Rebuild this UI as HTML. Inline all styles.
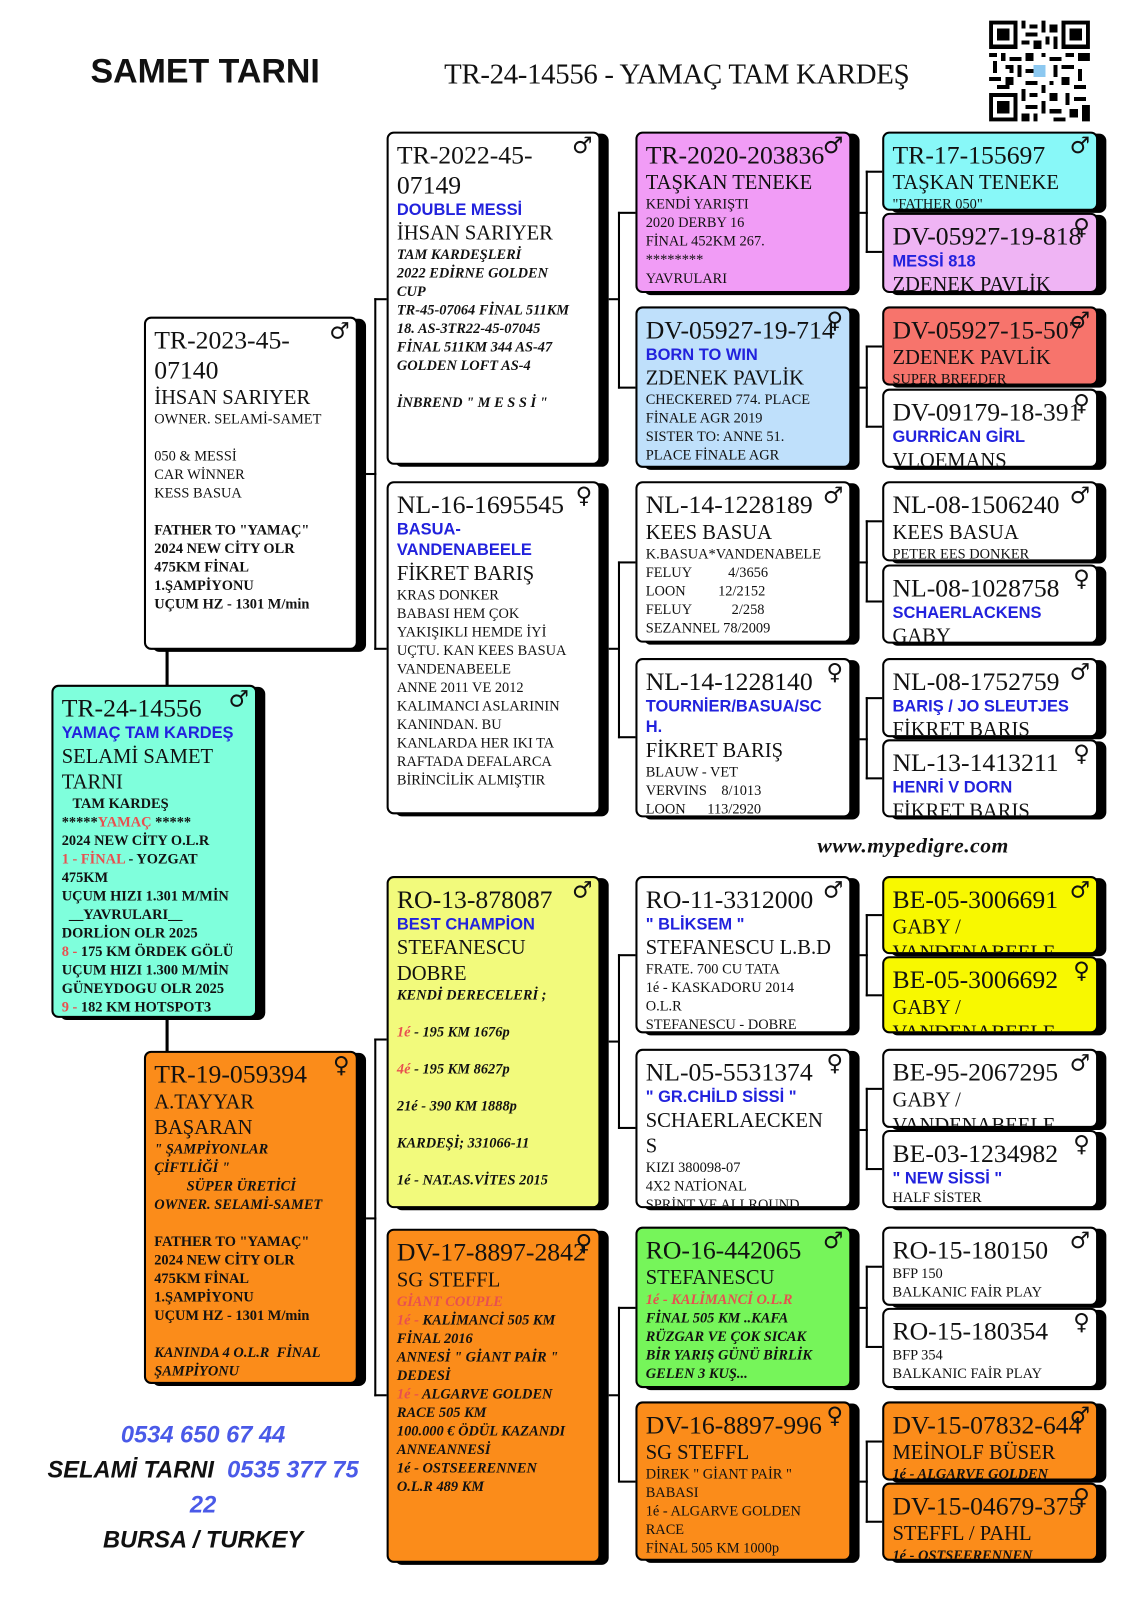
<!DOCTYPE html>
<html><head><meta charset="utf-8"><style>
html,body{margin:0;padding:0;background:#fff;width:1131px;height:1600px;overflow:hidden}
#w{position:absolute;left:0;top:0;width:1100px;height:1556px;transform:scale(1.0282);transform-origin:0 0;font-family:"Liberation Serif",serif;color:#111}
.b{position:absolute;border:2px solid #000;border-radius:7px;box-shadow:8px 2px 0 #000;overflow:hidden;box-sizing:border-box;padding:7px 8px 4px}
.id{font-size:25px;line-height:29px;white-space:nowrap}
.nm{font-size:20px;line-height:25px}
.bl{font-family:"Liberation Sans",sans-serif;font-weight:bold;color:#2222dd;font-size:16px;line-height:20px}
.d{font-size:14px;line-height:18px}
.bi{font-size:14px;line-height:18px;font-weight:bold;font-style:italic}
.bo{font-size:14px;line-height:18px;font-weight:bold}
.r{color:#e85050}
.s{position:absolute;right:6px;top:0px;font-size:22px;font-family:"DejaVu Sans",sans-serif}
.l{position:absolute;background:#000}
</style></head><body><div id="w">
<div style="position:absolute;left:88px;top:50px;font:bold 33px 'Liberation Sans',sans-serif">SAMET TARNI</div>
<div style="position:absolute;left:432px;top:57px;font-size:28px;letter-spacing:-0.3px">TR-24-14556 - YAMAÇ TAM KARDEŞ</div>
<svg style="position:absolute;left:962px;top:20px" width="98" height="98" viewBox="0 0 25 25" shape-rendering="crispEdges"><rect width="25" height="25" fill="#fff"/>
<g fill="#000">
<path d="M0 0h7v7h-7zM18 0h7v7h-7zM0 18h7v7h-7z"/>
</g>
<g fill="#fff"><path d="M1 1h5v5h-5zM19 1h5v5h-5zM1 19h5v5h-5z"/></g>
<g fill="#000"><path d="M2 2h3v3h-3zM20 2h3v3h-3zM2 20h3v3h-3z"/>
<path d="M8 0h1v2h-1zM10 1h2v1h-2zM13 0h1v3h-1zM15 1h2v2h-2zM9 3h3v1h-3zM14 4h1v2h-1zM8 5h2v1h-2zM11 5h2v2h-2zM16 4h1v3h-1zM0 8h2v1h-2zM3 8h1v2h-1zM5 9h3v1h-3zM9 8h2v2h-2zM13 8h1v1h-1zM15 9h3v1h-3zM19 8h2v1h-2zM22 8h3v2h-3zM1 10h1v3h-1zM4 11h2v1h-2zM7 11h1v3h-1zM9 12h2v1h-2zM16 11h1v3h-1zM18 11h3v1h-3zM22 12h1v3h-1zM0 14h3v1h-3zM4 14h2v2h-2zM9 15h3v1h-3zM13 16h1v2h-1zM15 15h1v1h-1zM18 14h2v2h-2zM21 16h3v1h-3zM8 17h1v3h-1zM10 18h2v1h-2zM15 18h2v2h-2zM19 18h1v3h-1zM21 19h3v1h-3zM9 21h3v1h-3zM13 20h1v3h-1zM15 22h3v1h-3zM20 22h2v2h-2zM23 21h2v4h-2zM8 23h2v2h-2zM11 23h1v2h-1zM16 24h3v1h-3zM2 16h3v1h-3zM5 12h1v1h-1z"/></g>
<rect x="11" y="11" width="3" height="3" fill="#8cc8f0"/></svg>

<!-- connectors -->
<div class="l" style="left:161px;top:632px;width:3px;height:36px"></div>
<div class="l" style="left:161px;top:990px;width:3px;height:34px"></div>
<div class="l" style="left:356px;top:460px;width:10px;height:2px"></div>
<div class="l" style="left:364px;top:290px;width:2px;height:342px"></div>
<div class="l" style="left:364px;top:290px;width:12px;height:2px"></div>
<div class="l" style="left:364px;top:630px;width:12px;height:2px"></div>
<div class="l" style="left:356px;top:1184px;width:10px;height:2px"></div>
<div class="l" style="left:364px;top:1010px;width:2px;height:348px"></div>
<div class="l" style="left:364px;top:1010px;width:12px;height:2px"></div>
<div class="l" style="left:364px;top:1356px;width:12px;height:2px"></div>
<!-- gen2->gen3 -->
<div class="l" style="left:592px;top:290px;width:10px;height:2px"></div>
<div class="l" style="left:601px;top:206px;width:2px;height:172px"></div>
<div class="l" style="left:601px;top:206px;width:17px;height:2px"></div>
<div class="l" style="left:601px;top:376px;width:17px;height:2px"></div>
<div class="l" style="left:592px;top:630px;width:10px;height:2px"></div>
<div class="l" style="left:601px;top:546px;width:2px;height:172px"></div>
<div class="l" style="left:601px;top:546px;width:17px;height:2px"></div>
<div class="l" style="left:601px;top:716px;width:17px;height:2px"></div>
<div class="l" style="left:592px;top:1012px;width:10px;height:2px"></div>
<div class="l" style="left:601px;top:928px;width:2px;height:170px"></div>
<div class="l" style="left:601px;top:928px;width:17px;height:2px"></div>
<div class="l" style="left:601px;top:1096px;width:17px;height:2px"></div>
<div class="l" style="left:592px;top:1356px;width:10px;height:2px"></div>
<div class="l" style="left:601px;top:1271px;width:2px;height:170px"></div>
<div class="l" style="left:601px;top:1271px;width:17px;height:2px"></div>
<div class="l" style="left:601px;top:1440px;width:17px;height:2px"></div>
<!-- gen3->gen4 -->
<div class="l" style="left:836px;top:206px;width:8px;height:2px"></div><div class="l" style="left:842px;top:166px;width:2px;height:80px"></div><div class="l" style="left:842px;top:166px;width:16px;height:2px"></div><div class="l" style="left:842px;top:244px;width:16px;height:2px"></div>
<div class="l" style="left:836px;top:376px;width:8px;height:2px"></div><div class="l" style="left:842px;top:336px;width:2px;height:80px"></div><div class="l" style="left:842px;top:336px;width:16px;height:2px"></div><div class="l" style="left:842px;top:414px;width:16px;height:2px"></div>
<div class="l" style="left:836px;top:546px;width:8px;height:2px"></div><div class="l" style="left:842px;top:506px;width:2px;height:80px"></div><div class="l" style="left:842px;top:506px;width:16px;height:2px"></div><div class="l" style="left:842px;top:584px;width:16px;height:2px"></div>
<div class="l" style="left:836px;top:718px;width:8px;height:2px"></div><div class="l" style="left:842px;top:678px;width:2px;height:80px"></div><div class="l" style="left:842px;top:678px;width:16px;height:2px"></div><div class="l" style="left:842px;top:756px;width:16px;height:2px"></div>
<div class="l" style="left:836px;top:928px;width:8px;height:2px"></div><div class="l" style="left:842px;top:889px;width:2px;height:80px"></div><div class="l" style="left:842px;top:889px;width:16px;height:2px"></div><div class="l" style="left:842px;top:967px;width:16px;height:2px"></div>
<div class="l" style="left:836px;top:1098px;width:8px;height:2px"></div><div class="l" style="left:842px;top:1058px;width:2px;height:80px"></div><div class="l" style="left:842px;top:1058px;width:16px;height:2px"></div><div class="l" style="left:842px;top:1136px;width:16px;height:2px"></div>
<div class="l" style="left:836px;top:1271px;width:8px;height:2px"></div><div class="l" style="left:842px;top:1231px;width:2px;height:80px"></div><div class="l" style="left:842px;top:1231px;width:16px;height:2px"></div><div class="l" style="left:842px;top:1309px;width:16px;height:2px"></div>
<div class="l" style="left:836px;top:1440px;width:8px;height:2px"></div><div class="l" style="left:842px;top:1401px;width:2px;height:80px"></div><div class="l" style="left:842px;top:1401px;width:16px;height:2px"></div><div class="l" style="left:842px;top:1479px;width:16px;height:2px"></div>

<!-- root -->
<div class="b" style="left:50px;top:666px;width:200px;height:324px;background:#7fffdc"><span class="s">♂</span>
<div class="id">TR-24-14556</div><div class="bl">YAMAÇ TAM KARDEŞ</div><div class="nm">SELAMİ SAMET TARNI</div>
<div class="bo">&nbsp;&nbsp;&nbsp;TAM KARDEŞ<br>*****<span class="r">YAMAÇ</span> *****<br>2024 NEW CİTY O.L.R<br><span class="r">1 - FİNAL</span> - YOZGAT<br>475KM<br>UÇUM HIZI 1.301 M/MİN<br>&nbsp;&nbsp;__YAVRULARI__<br>DORLİON OLR 2025<br><span class="r">8 -</span> 175 KM ÖRDEK GÖLÜ<br>UÇUM HIZI 1.300 M/MİN<br>GÜNEYDOGU OLR 2025<br><span class="r">9 -</span> 182 KM HOTSPOT3</div></div>

<!-- father -->
<div class="b" style="left:140px;top:308px;width:208px;height:324px;background:#fff"><span class="s">♂</span>
<div class="id" style="white-space:normal">TR-2023-45-<br>07140</div><div class="nm">İHSAN SARIYER</div>
<div class="d">OWNER. SELAMİ-SAMET<br><br>050 &amp; MESSİ<br>CAR WİNNER<br>KESS BASUA<br><br></div>
<div class="bo">FATHER TO "YAMAÇ"<br>2024 NEW CİTY OLR<br>475KM FİNAL<br>1.ŞAMPİYONU<br>UÇUM HZ - 1301 M/min</div></div>

<!-- mother -->
<div class="b" style="left:140px;top:1022px;width:208px;height:324px;background:#fb8c1a"><span class="s">♀</span>
<div class="id">TR-19-059394</div><div class="nm">A.TAYYAR<br>BAŞARAN</div>
<div class="bi">" ŞAMPİYONLAR<br>ÇİFTLİĞİ "<br>&nbsp;&nbsp;&nbsp;&nbsp;&nbsp;&nbsp;&nbsp;&nbsp;&nbsp;SÜPER ÜRETİCİ<br>OWNER. SELAMİ-SAMET</div><br>
<div class="bo">FATHER TO "YAMAÇ"<br>2024 NEW CİTY OLR<br>475KM FİNAL<br>1.ŞAMPİYONU<br>UÇUM HZ - 1301 M/min</div><br>
<div class="bi">KANINDA 4 O.L.R&nbsp; FİNAL<br>ŞAMPİYONU</div></div>

<!-- gen2 -->
<div class="b" style="left:376px;top:128px;width:208px;height:324px;background:#fff"><span class="s">♂</span>
<div class="id">TR-2022-45-<br>07149</div><div class="bl">DOUBLE MESSİ</div><div class="nm">İHSAN SARIYER</div>
<div class="bi">TAM KARDEŞLERİ<br>2022 EDİRNE GOLDEN<br>CUP<br>TR-45-07064 FİNAL 511KM<br>18. AS-3TR22-45-07045<br>FİNAL 511KM 344 AS-47<br>GOLDEN LOFT AS-4<br><br>İNBREND " M E S S İ "</div></div>

<div class="b" style="left:376px;top:468px;width:208px;height:324px;background:#fff"><span class="s">♀</span>
<div class="id">NL-16-1695545</div><div class="bl">BASUA-<br>VANDENABEELE</div><div class="nm">FİKRET BARIŞ</div>
<div class="d">KRAS DONKER<br>BABASI HEM ÇOK<br>YAKIŞIKLI HEMDE İYİ<br>UÇTU. KAN KEES BASUA<br>VANDENABEELE<br>ANNE 2011 VE 2012<br>KALIMANCI ASLARININ<br>KANINDAN. BU<br>KANLARDA HER IKI TA<br>RAFTADA DEFALARCA<br>BİRİNCİLİK ALMIŞTIR</div></div>

<div class="b" style="left:376px;top:852px;width:208px;height:323px;background:#f2fa7c"><span class="s">♂</span>
<div class="id">RO-13-878087</div><div class="bl">BEST CHAMPİON</div><div class="nm">STEFANESCU<br>DOBRE</div>
<div class="bi">KENDİ DERECELERİ ;<br><br><span class="r">1é</span> - 195 KM 1676p<br><br><span class="r">4é</span> - 195 KM 8627p<br><br>21é - 390 KM 1888p<br><br>KARDEŞİ; 331066-11<br><br>1é - NAT.AS.VİTES 2015</div></div>

<div class="b" style="left:376px;top:1195px;width:208px;height:325px;background:#fb8c1a"><span class="s">♀</span>
<div class="id">DV-17-8897-2842</div><div class="nm">SG STEFFL</div>
<div class="bi"><span class="r">GİANT COUPLE<br>1é -</span> KALİMANCİ 505 KM<br>FİNAL 2016<br>ANNESİ " GİANT PAİR "<br>DEDESİ<br><span class="r">1é -</span> ALGARVE GOLDEN<br>RACE 505 KM<br>100.000 € ÖDÜL KAZANDI<br>ANNEANNESİ<br>1é - OSTSEERENNEN<br>O.L.R 489 KM</div></div>

<!-- gen3 -->
<div class="b" style="left:618px;top:128px;width:210px;height:157px;background:#f19cf6"><span class="s">♂</span>
<div class="id">TR-2020-203836</div><div class="nm">TAŞKAN TENEKE</div><div class="d">KENDİ YARIŞTI<br>2020 DERBY 16<br>FİNAL 452KM 267.<br>********<br>YAVRULARI</div></div>
<div class="b" style="left:618px;top:298px;width:210px;height:157px;background:#bfe0fb"><span class="s">♀</span>
<div class="id">DV-05927-19-714</div><div class="bl">BORN TO WIN</div><div class="nm">ZDENEK PAVLİK</div><div class="d">CHECKERED 774. PLACE<br>FİNALE AGR 2019<br>SISTER TO: ANNE 51.<br>PLACE FİNALE AGR</div></div>
<div class="b" style="left:618px;top:468px;width:210px;height:157px;background:#fff"><span class="s">♂</span>
<div class="id">NL-14-1228189</div><div class="nm">KEES BASUA</div><div class="d">K.BASUA*VANDENABELE<br>FELUY&nbsp;&nbsp;&nbsp;&nbsp;&nbsp;&nbsp;&nbsp;&nbsp;&nbsp;&nbsp;4/3656<br>LOON&nbsp;&nbsp;&nbsp;&nbsp;&nbsp;&nbsp;&nbsp;&nbsp;&nbsp;12/2152<br>FELUY&nbsp;&nbsp;&nbsp;&nbsp;&nbsp;&nbsp;&nbsp;&nbsp;&nbsp;&nbsp;&nbsp;2/258<br>SEZANNEL 78/2009</div></div>
<div class="b" style="left:618px;top:640px;width:210px;height:155px;background:#fff"><span class="s">♀</span>
<div class="id">NL-14-1228140</div><div class="bl">TOURNİER/BASUA/SC<br>H.</div><div class="nm">FİKRET BARIŞ</div><div class="d">BLAUW - VET<br>VERVINS&nbsp;&nbsp;&nbsp; 8/1013<br>LOON&nbsp;&nbsp;&nbsp;&nbsp;&nbsp; 113/2920</div></div>
<div class="b" style="left:618px;top:852px;width:210px;height:153px;background:#fff"><span class="s">♂</span>
<div class="id">RO-11-3312000</div><div class="bl">" BLİKSEM "</div><div class="nm">STEFANESCU L.B.D</div><div class="d">FRATE. 700 CU TATA<br>1é - KASKADORU 2014<br>O.L.R<br>STEFANESCU - DOBRE</div></div>
<div class="b" style="left:618px;top:1020px;width:210px;height:155px;background:#fff"><span class="s">♀</span>
<div class="id">NL-05-5531374</div><div class="bl">" GR.CHİLD SİSSİ "</div><div class="nm">SCHAERLAECKEN<br>S</div><div class="d">KIZI 380098-07<br>4X2 NATİONAL<br>SPRİNT VE ALLROUND</div></div>
<div class="b" style="left:618px;top:1193px;width:210px;height:157px;background:#76f55a"><span class="s">♂</span>
<div class="id">RO-16-442065</div><div class="nm">STEFANESCU</div><div class="bi"><span class="r">1é - KALİMANCİ O.L.R</span><br>FİNAL 505 KM ..KAFA<br>RÜZGAR VE ÇOK SICAK<br>BİR YARIŞ GÜNÜ BİRLİK<br>GELEN 3 KUŞ...</div></div>
<div class="b" style="left:618px;top:1363px;width:210px;height:155px;background:#fb8c1a"><span class="s">♀</span>
<div class="id">DV-16-8897-996</div><div class="nm">SG STEFFL</div><div class="d">DİREK " GİANT PAİR "<br>BABASI<br>1é - ALGARVE GOLDEN<br>RACE<br>FİNAL 505 KM 1000p</div></div>

<!-- gen4 -->
<div class="b" style="left:858px;top:128px;width:210px;height:77px;background:#88f8f8"><span class="s">♂</span><div class="id">TR-17-155697</div><div class="nm">TAŞKAN TENEKE</div><div class="d">"FATHER 050"</div></div>
<div class="b" style="left:858px;top:207px;width:210px;height:78px;background:#efb4f4"><span class="s">♀</span><div class="id">DV-05927-19-818</div><div class="bl">MESSİ 818</div><div class="nm">ZDENEK PAVLİK</div></div>
<div class="b" style="left:858px;top:298px;width:210px;height:77px;background:#f7746c"><span class="s">♂</span><div class="id">DV-05927-15-507</div><div class="nm">ZDENEK PAVLİK</div><div class="d">SUPER BREEDER</div></div>
<div class="b" style="left:858px;top:378px;width:210px;height:77px;background:#fff"><span class="s">♀</span><div class="id">DV-09179-18-391</div><div class="bl">GURRİCAN GİRL</div><div class="nm">VLOEMANS</div></div>
<div class="b" style="left:858px;top:468px;width:210px;height:78px;background:#fff"><span class="s">♂</span><div class="id">NL-08-1506240</div><div class="nm">KEES BASUA</div><div class="d">PETER EES DONKER</div></div>
<div class="b" style="left:858px;top:549px;width:210px;height:77px;background:#fff"><span class="s">♀</span><div class="id">NL-08-1028758</div><div class="bl">SCHAERLACKENS</div><div class="nm">GABY</div></div>
<div class="b" style="left:858px;top:640px;width:210px;height:77px;background:#fff"><span class="s">♂</span><div class="id">NL-08-1752759</div><div class="bl">BARIŞ / JO SLEUTJES</div><div class="nm">FİKRET BARIŞ</div></div>
<div class="b" style="left:858px;top:719px;width:210px;height:76px;background:#fff"><span class="s">♀</span><div class="id">NL-13-1413211</div><div class="bl">HENRİ V DORN</div><div class="nm">FİKRET BARIŞ</div></div>
<div class="b" style="left:858px;top:852px;width:210px;height:76px;background:#f8f800"><span class="s">♂</span><div class="id">BE-05-3006691</div><div class="nm">GABY /<br>VANDENABEELE</div></div>
<div class="b" style="left:858px;top:930px;width:210px;height:75px;background:#f8f800"><span class="s">♀</span><div class="id">BE-05-3006692</div><div class="nm">GABY /<br>VANDENABEELE</div></div>
<div class="b" style="left:858px;top:1020px;width:210px;height:77px;background:#fff"><span class="s">♂</span><div class="id">BE-95-2067295</div><div class="nm">GABY /<br>VANDENABEELE</div></div>
<div class="b" style="left:858px;top:1099px;width:210px;height:76px;background:#fff"><span class="s">♀</span><div class="id">BE-03-1234982</div><div class="bl">" NEW SİSSİ "</div><div class="d">HALF SİSTER</div></div>
<div class="b" style="left:858px;top:1193px;width:210px;height:77px;background:#fff"><span class="s">♂</span><div class="id">RO-15-180150</div><div class="d">BFP 150<br>BALKANIC FAİR PLAY</div></div>
<div class="b" style="left:858px;top:1272px;width:210px;height:78px;background:#fff"><span class="s">♀</span><div class="id">RO-15-180354</div><div class="d">BFP 354<br>BALKANIC FAİR PLAY</div></div>
<div class="b" style="left:858px;top:1363px;width:210px;height:77px;background:#fb8c1a"><span class="s">♂</span><div class="id">DV-15-07832-644</div><div class="nm">MEİNOLF BÜSER</div><div class="bi">1é - ALGARVE GOLDEN</div></div>
<div class="b" style="left:858px;top:1442px;width:210px;height:76px;background:#fb8c1a"><span class="s">♀</span><div class="id">DV-15-04679-375</div><div class="nm">STEFFL / PAHL</div><div class="bi">1é - OSTSEERENNEN</div></div>

<div style="position:absolute;left:795px;top:810px;font:italic bold 21px 'Liberation Serif',serif;letter-spacing:0.5px">www.mypedigre.com</div>

<div style="position:absolute;left:20px;top:1378px;width:355px;text-align:center;font:italic bold 23px/34px 'Liberation Sans',sans-serif;color:#111">
<span style="color:#4a5ae8">0534 650 67 44</span><br>SELAMİ TARNI&nbsp; <span style="color:#4a5ae8">0535 377 75<br>22</span><br>BURSA / TURKEY</div>
</div></body></html>
